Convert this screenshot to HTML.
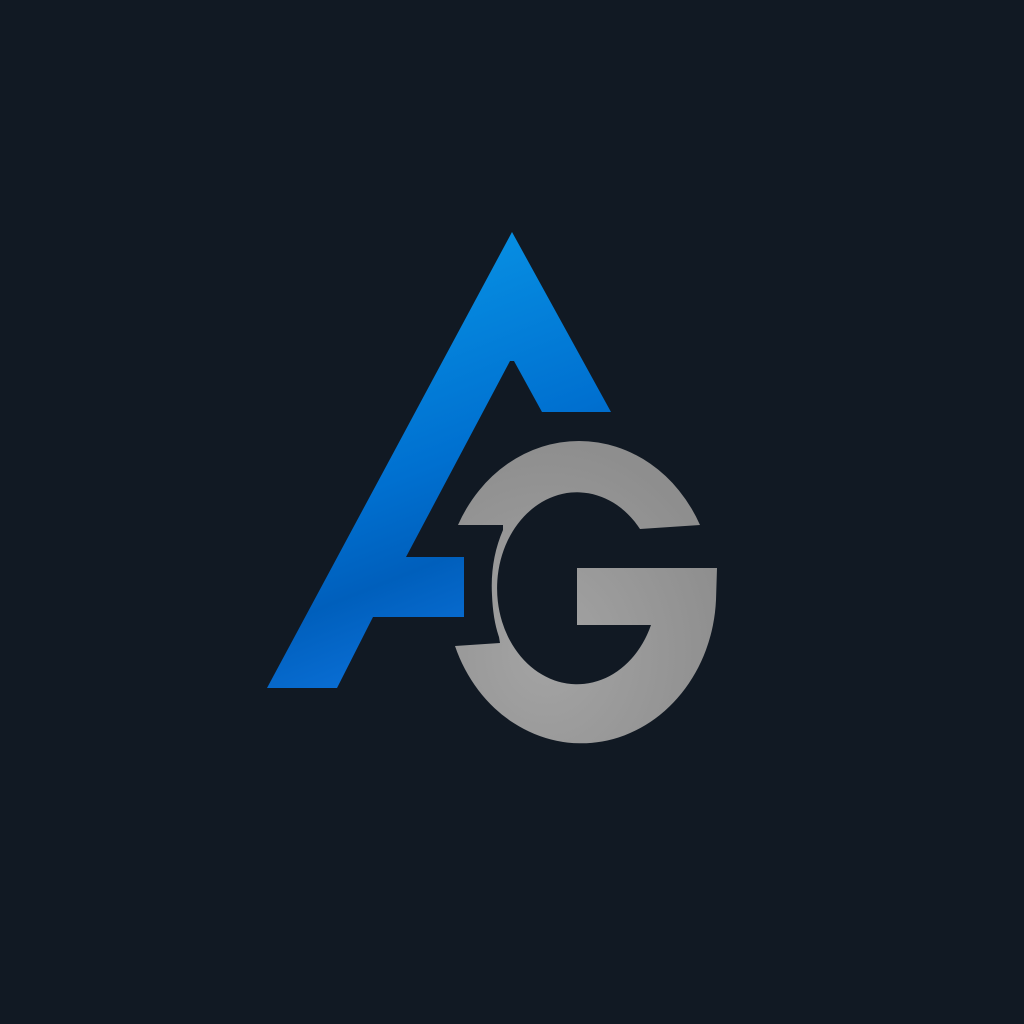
<!DOCTYPE html>
<html>
<head>
<meta charset="utf-8">
<style>
html,body{margin:0;padding:0;background:#111923;}
svg{display:block;}
</style>
</head>
<body>
<svg width="1024" height="1024" viewBox="0 0 1024 1024" xmlns="http://www.w3.org/2000/svg">
  <defs>
    <linearGradient id="blueGrad" x1="0" y1="0" x2="0.3" y2="1">
      <stop offset="0" stop-color="#0a9cea"/>
      <stop offset="0.6" stop-color="#0070d0"/>
      <stop offset="0.8" stop-color="#005fbc"/>
      <stop offset="1" stop-color="#0a6fd6"/>
    </linearGradient>
    <radialGradient id="grayGrad" cx="0.35" cy="0.7" r="0.7">
      <stop offset="0" stop-color="#a4a4a4"/>
      <stop offset="1" stop-color="#8e8e8e"/>
    </radialGradient>
  </defs>
  <rect x="0" y="0" width="1024" height="1024" fill="#111923"/>
  <path fill="url(#blueGrad)"
    d="M512,232 L611,412 L542,412 L514,361 L510,361 L406,557 L464,557 L464,617 L373,617 L337,688 L267,688 Z"/>
  <path fill="url(#grayGrad)"
    d="M700,525 A135,151 0 0 0 458,525 L503,525 L503,530 Q490,560 492,595 Q493,620 499,637 L500,643 L455,646 A135,151 0 0 0 716,600 L717,568 L577,568 L577,625 L651,625 A80,96 0 1 1 640,529 Z"/>
</svg>
</body>
</html>
